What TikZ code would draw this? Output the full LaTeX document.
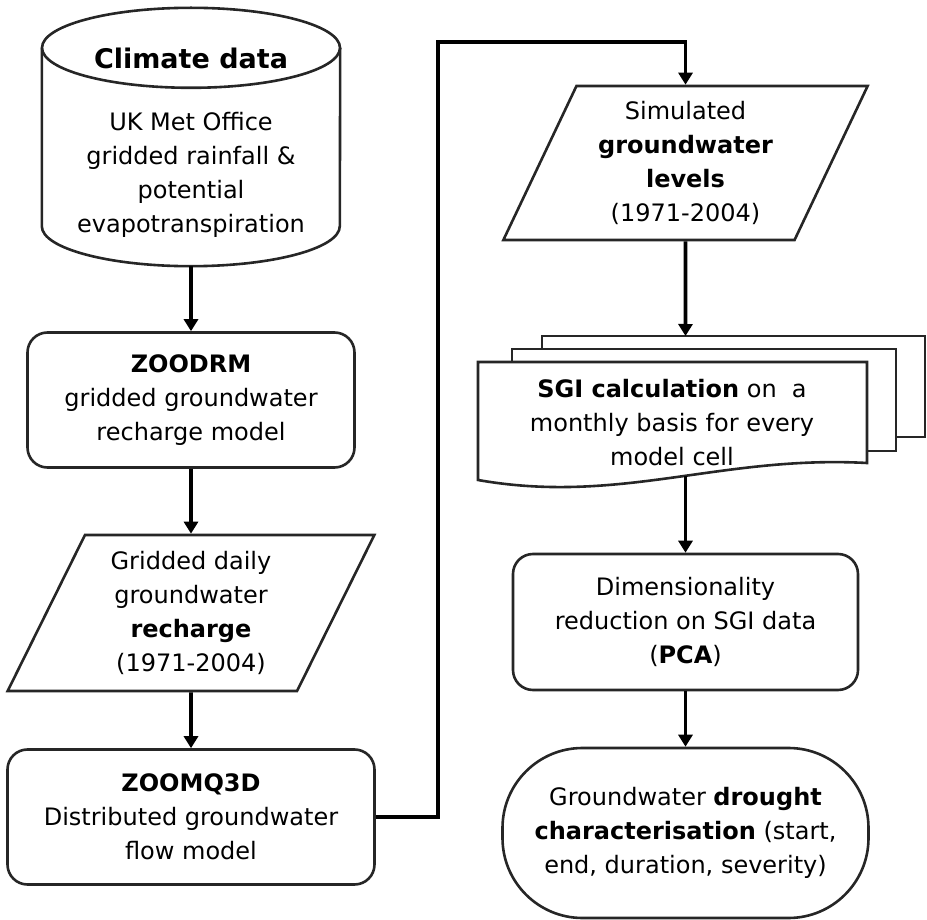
\documentclass[tikz,border=0pt]{standalone}
\usepackage{fontspec}
\setmainfont{DejaVu Sans}
\usetikzlibrary{positioning, arrows.meta, shapes.geometric}

\begin{document}
\begin{tikzpicture}[
    x=1pt, y=-1pt,
    font=\fontsize{24}{34}\selectfont,
    outl/.style={draw=black!85, line width=2.6pt},
    proc/.style={outl, rectangle, rounded corners=20pt, minimum width=327pt, minimum height=135pt, align=center, inner sep=0pt},
    data/.style={outl, trapezium, trapezium left angle=64.6, trapezium right angle=115.4, trapezium stretches=true, minimum width=368pt, minimum height=156pt, align=center, inner sep=0pt},
    term/.style={outl, rectangle, rounded corners=80pt, minimum width=366pt, minimum height=170pt, align=center, inner sep=0pt},
    txt/.style={align=center, inner sep=0pt},
    arr/.style={-{Triangle[length=12pt, width=14pt]}, line width=3.7pt}
]
\useasboundingbox (0,0) rectangle (927,920);

% left column
\node[minimum width=298pt, minimum height=258pt, inner sep=0pt] (clim) at (191,137) {};
\draw[outl] ([yshift=-40pt]clim.north west) -- ([yshift=40pt]clim.south west)
    arc[start angle=180, end angle=360, x radius=149pt, y radius=40pt] -- ([yshift=-40pt]clim.north east);
\draw[outl] ([yshift=-40pt]clim.north) ellipse[x radius=149pt, y radius=40pt];
\node[txt] (climtxt) at (191,143) {{\fontsize{27}{34}\selectfont\bfseries Climate data}\\[28pt]UK Met Office\\gridded rainfall \&\\potential\\evapotranspiration};
\node[proc] (zoodrm) at (191,400) {\textbf{ZOODRM}\\gridded groundwater\\recharge model};
\node[data] (rech) at (191,613) {Gridded daily\\groundwater\\\textbf{recharge}\\(1971-2004)};
\node[proc, minimum width=367pt] (zoomq) at (191,817) {\textbf{ZOOMQ3D}\\Distributed groundwater\\flow model};

% right column
\node[data, minimum width=365pt, minimum height=154pt] (levels) at (685.5,163) {Simulated\\\textbf{groundwater}\\\textbf{levels}\\(1971-2004)};

% stacked documents
\draw[outl] (542,349) -- (542,336) -- (925,336) -- (925,437) -- (896,437);
\draw[outl] (512,362) -- (512,349) -- (896,349) -- (896,451) -- (867,451);
\draw[outl] (478,362) -- (867,362) -- (867,463) .. controls (720,455) and (620,505) .. (478,480) -- cycle;
\node[txt] (sgi) at (672,423) {\textbf{SGI calculation} on~~a\\monthly basis for every\\model cell};
\coordinate (stacktop) at (685.5,336);
\coordinate (stackbot) at (685.5,476);

\node[proc, minimum width=345pt, minimum height=136pt] (dim) at (685.5,622) {Dimensionality\\reduction on SGI data\\(\textbf{PCA})};
\node[term] (drought) at (685.5,833) {Groundwater \textbf{drought}\\\textbf{characterisation} (start,\\end, duration, severity)};

% connectors
\coordinate (turn) at (438,42);
\draw[arr] (clim.south) -- (zoodrm.north);
\draw[arr] (zoodrm) -- (rech);
\draw[arr] (rech) -- (zoomq);
\draw[arr] (zoomq.east) -| (turn) -| (levels.north);
\draw[arr] (levels.south) -- (stacktop);
\draw[arr] (stackbot) -- (dim.north);
\draw[arr] (dim) -- (drought);
\end{tikzpicture}
\end{document}
